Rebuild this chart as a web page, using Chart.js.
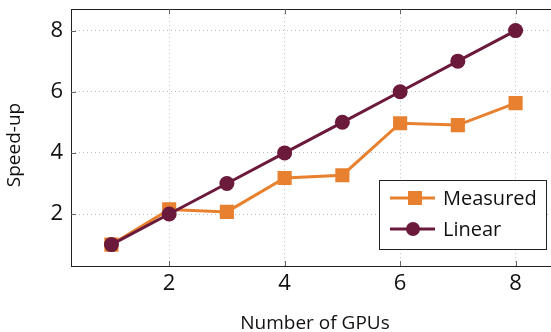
<!DOCTYPE html>
<html>
<head>
<meta charset="utf-8">
<script src="https://cdn.jsdelivr.net/npm/chart.js@4"></script>
<style>
  html, body { margin: 0; padding: 0; overflow: hidden; background: #fff; }
  #wrap { width: 566px; height: 344px; position: relative; top: -12px; }
</style>
</head>
<body>
<div id="wrap"><canvas id="speedChart"></canvas></div>
<script>
// data
const gpus = [1, 2, 3, 4, 5, 6, 7, 8];
const measured = [1.0, 2.15, 2.07, 3.18, 3.27, 4.97, 4.91, 5.63];
const linear = [1, 2, 3, 4, 5, 6, 7, 8];
const xTicks = [2, 4, 6, 8];
const yTicks = [2, 4, 6, 8];

const orange = '#E8812F';
const maroon = '#6B1A3C';
const fontFamily = '"Open Sans", "Noto Sans", sans-serif';

function toPoints(values) {
    return gpus.map((g, i) => ({ x: g, y: values[i] }));
}

// frame, inner tick marks, axis titles and the legend box inside the plot
const framePlugin = {
    id: 'frame',
    afterDraw(chart) {
        const ctx = chart.ctx;
        const area = chart.chartArea;
        const xs = chart.scales.x;
        const ys = chart.scales.y;
        const off = 12; // page is shifted up 12px
        ctx.save();
        ctx.strokeStyle = '#222';
        ctx.lineWidth = 1;
        ctx.strokeRect(Math.round(area.left) + 0.5, Math.round(area.top) + 0.5,
            Math.round(area.right - area.left), Math.round(area.bottom - area.top));

        ctx.strokeStyle = '#666';
        ctx.beginPath();
        xTicks.forEach(t => {
            const px = Math.round(xs.getPixelForValue(t)) + 0.5;
            ctx.moveTo(px, area.bottom); ctx.lineTo(px, area.bottom - 5);
            ctx.moveTo(px, area.top); ctx.lineTo(px, area.top + 5);
        });
        yTicks.forEach(t => {
            const py = Math.round(ys.getPixelForValue(t)) + 0.5;
            ctx.moveTo(area.left, py); ctx.lineTo(area.left + 5, py);
            ctx.moveTo(area.right, py); ctx.lineTo(area.right - 5, py);
        });
        ctx.stroke();

        // axis titles
        ctx.fillStyle = '#111';
        ctx.font = '19px ' + fontFamily;
        ctx.textAlign = 'center';
        ctx.textBaseline = 'middle';
        ctx.fillText('Number of GPUs', 315, 324 + off);
        ctx.translate(15, 145 + off);
        ctx.rotate(-Math.PI / 2);
        ctx.fillText('Speed-up', 0, 0);
        ctx.setTransform(1, 0, 0, 1, 0, 0);

        // legend
        const bx = 379.5, by = 180.5 + off, bw = 167, bh = 69;
        ctx.fillStyle = '#fff';
        ctx.fillRect(bx, by, bw, bh);
        ctx.strokeStyle = '#222';
        ctx.lineWidth = 1;
        ctx.strokeRect(bx, by, bw, bh);

        const items = [
            { label: 'Measured', color: orange, shape: 'rect', y: 198 + off },
            { label: 'Linear', color: maroon, shape: 'circle', y: 229 + off }
        ];
        items.forEach(item => {
            ctx.strokeStyle = item.color;
            ctx.lineWidth = 3;
            ctx.beginPath();
            ctx.moveTo(390, item.y);
            ctx.lineTo(435, item.y);
            ctx.stroke();
            ctx.fillStyle = item.color;
            if (item.shape === 'rect') {
                ctx.fillRect(415 - 7, item.y - 7, 14, 14);
            } else {
                ctx.beginPath();
                ctx.arc(413, item.y, 7, 0, Math.PI * 2);
                ctx.fill();
            }
            ctx.fillStyle = '#111';
            ctx.font = '20px ' + fontFamily;
            ctx.textAlign = 'left';
            ctx.textBaseline = 'middle';
            ctx.fillText(item.label, 443, item.y + 1);
        });
        ctx.restore();
    }
};

const ctx = document.getElementById('speedChart').getContext('2d');

const speedChart = new Chart(ctx, {
    type: 'line',
    data: {
        datasets: [
            {
                label: 'Linear',
                data: toPoints(linear),
                borderColor: maroon,
                backgroundColor: maroon,
                borderWidth: 3,
                pointStyle: 'circle',
                pointRadius: 7.5,
                pointBorderWidth: 0,
                order: 0
            },
            {
                label: 'Measured',
                data: toPoints(measured),
                borderColor: orange,
                backgroundColor: orange,
                borderWidth: 3,
                pointStyle: 'rect',
                pointRadius: 10,
                pointBorderWidth: 0,
                order: 1
            }
        ]
    },
    options: {
        responsive: true,
        maintainAspectRatio: false,
        animation: false,
        layout: { padding: { top: 8, right: 0, bottom: 0, left: 0 } },
        plugins: {
            legend: { display: false },
            tooltip: { enabled: false }
        },
        scales: {
            x: {
                type: 'linear',
                min: 0.3,
                max: 8.7,
                afterBuildTicks: scale => { scale.ticks = xTicks.map(v => ({ value: v })); },
                afterFit: scale => { scale.height = 66; },
                border: { display: false, dash: [1, 3] },
                grid: { color: '#bbbbbb', drawTicks: false },
                ticks: { color: '#111', padding: 5, font: { family: fontFamily, size: 22 } }
            },
            y: {
                min: 0.3,
                max: 8.7,
                afterBuildTicks: scale => { scale.ticks = yTicks.map(v => ({ value: v })); },
                afterFit: scale => { scale.width = 71; },
                border: { display: false, dash: [1, 3] },
                grid: { color: '#bbbbbb', drawTicks: false },
                ticks: { color: '#111', padding: 8, font: { family: fontFamily, size: 22 } }
            }
        }
    },
    plugins: [framePlugin]
});
</script>
</body>
</html>
